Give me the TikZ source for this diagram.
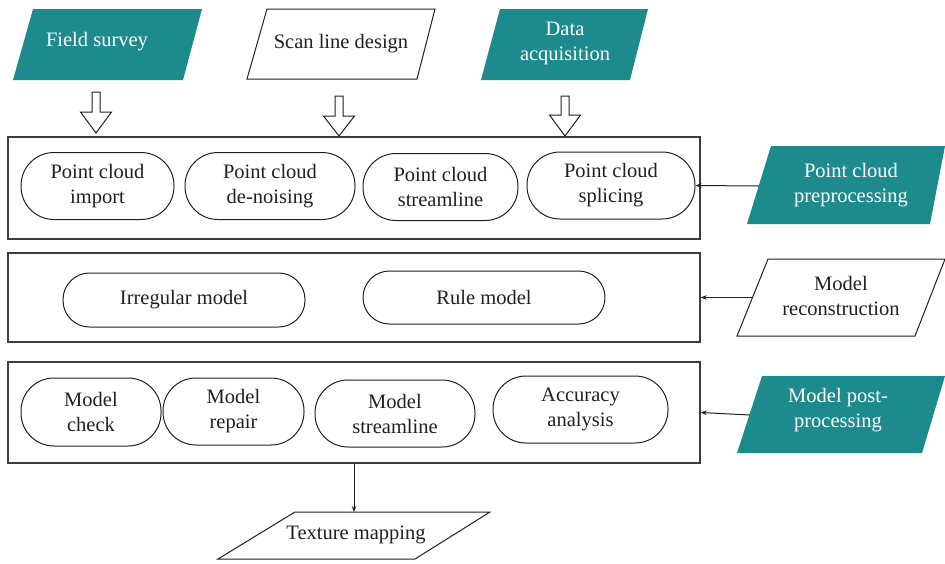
\documentclass[tikz,border=0pt]{standalone}
\usepackage{fontspec}
\setmainfont{Liberation Serif}
\usetikzlibrary{arrows.meta}
\definecolor{tealc}{RGB}{29,139,141}
\definecolor{ink}{RGB}{35,31,32}
\definecolor{framec}{RGB}{60,60,60}
\begin{document}
\begin{tikzpicture}[x=1pt,y=-1pt,
  lbl/.style={font=\fontsize{20.5}{25}\selectfont, align=center, text=ink, inner sep=0pt},
  wlbl/.style={lbl, text=white},
  tealpara/.style={fill=tealc},
  whitepara/.style={draw=ink, line width=1pt, fill=white},
  frame/.style={draw=framec, line width=1.2pt, inner sep=0pt},
  stadium/.style={draw=ink, line width=1pt, lbl, rounded corners=33pt, minimum height=67pt},
  flat/.style={draw=ink, line width=1pt, lbl, rounded corners=26.5pt, minimum height=53pt},
  hollow/.style={draw=ink, line width=1pt, fill=white, line join=miter},
  conn/.style={draw=ink, line width=1pt, -{Stealth[length=6pt,width=4.5pt]}}
]
\useasboundingbox (0,0) rectangle (945,563);

% top input parallelograms
\fill[tealpara] (33,9) -- (202,9) -- (183,80) -- (13,80) -- cycle;
\node[wlbl] (fs) at (97,42) {Field survey};
\draw[whitepara] (267,9) -- (435,9) -- (417,79) -- (247,79) -- cycle;
\node[lbl] (sl) at (341,44) {Scan line design};
\fill[tealpara] (500,9) -- (648,9) -- (630,80) -- (481,80) -- cycle;
\node[wlbl] (da) at (565,43) {Data\\acquisition};

% hollow arrows
\draw[hollow, shift={(96,92)}] (-4,0) -- (4,0) -- (4,20) -- (15.5,20) -- (0,41) -- (-15.5,20) -- (-4,20) -- cycle;
\draw[hollow, shift={(339,96)}] (-4,0) -- (4,0) -- (4,20) -- (15.5,20) -- (0,40) -- (-15.5,20) -- (-4,20) -- cycle;
\draw[hollow, shift={(565,96)}] (-4,0) -- (4,0) -- (4,19) -- (15.5,19) -- (0,40) -- (-15.5,19) -- (-4,19) -- cycle;

% frames
\node[frame, minimum width=692pt, minimum height=102pt] (box1) at (354,188) {};
\node[frame, minimum width=692pt, minimum height=89pt] (box2) at (354,297.5) {};
\node[frame, minimum width=692pt, minimum height=101pt] (box3) at (354,412.5) {};

% box 1 stadiums
\node[stadium, minimum width=153pt] (s1) at (97.5,186) {Point cloud\\import};
\node[stadium, minimum width=170pt] (s2) at (270,186) {Point cloud\\de-noising};
\node[stadium, minimum width=155pt] (s3) at (440.5,187) {Point cloud\\streamline};
\node[stadium, minimum width=168pt] (s4) at (611,185.5) {Point cloud\\splicing};

% box 2 stadiums
\node[flat, minimum width=242pt, minimum height=54pt] (r1) at (184,300) {Irregular model};
\node[flat, minimum width=242pt] (r2) at (484,297.5) {Rule model};

% box 3 stadiums
\node[stadium, minimum width=140pt, minimum height=68pt] (m1) at (91,412) {Model\\check};
\node[stadium, minimum width=141pt] (m2) at (233.5,411.5) {Model\\repair};
\node[stadium, minimum width=160pt] (m3) at (395,413.5) {Model\\streamline};
\node[stadium, minimum width=175pt] (m4) at (580.5,409.5) {Accuracy\\analysis};

% right side parallelograms
\fill[tealpara] (771,146) -- (945,146) -- (930,224) -- (747,224) -- cycle;
\node[wlbl] (pp) at (851,185) {Point cloud\\preprocessing};
\coordinate (ppin) at (759,186);
\draw[whitepara] (768,259) -- (945,259) -- (915,336) -- (737,336) -- cycle;
\node[lbl] (mr) at (841,296) {Model\\reconstruction};
\coordinate (mrin) at (752,297.5);
\fill[tealpara] (762,376) -- (945,376) -- (922,453) -- (737,453) -- cycle;
\node[wlbl] (mp) at (838,410) {Model post-\\processing};
\coordinate (mpin) at (750,415);

% bottom parallelogram
\draw[whitepara] (295,512) -- (490,512) -- (415,559) -- (218,559) -- cycle;
\node[lbl] (tm) at (356,535) {Texture mapping};
\coordinate (tmin) at (354,512);

% connectors
\draw[conn] (ppin) -- (s4.east);
\draw[conn] (mrin) -- (box2.east);
\draw[conn] (mpin) -- (box3.east);
\draw[conn] (box3.south -| tmin) -- (tmin);
\end{tikzpicture}
\end{document}
